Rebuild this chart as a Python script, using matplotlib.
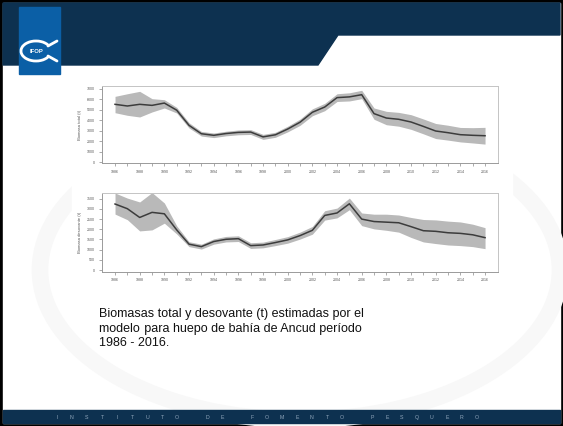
import matplotlib
matplotlib.use("Agg")
import matplotlib.pyplot as plt
from matplotlib.patches import Rectangle, Polygon, Ellipse, Arc
import numpy as np

plt.rcParams['font.family'] = ['Liberation Sans', 'DejaVu Sans']

# ---------------- data ----------------
years = list(range(1986, 2017))
total_mid = [5510, 5350, 5510, 5410, 5630, 4950, 3500, 2700, 2550, 2720, 2830, 2860, 2400, 2600,
             3150, 3800, 4750, 5250, 6150, 6220, 6430, 4620, 4200, 4080, 3820, 3400, 2960, 2800,
             2610, 2550, 2510]
total_lo = [4710, 4460, 4300, 4780, 5160, 4680, 3250, 2480, 2330, 2500, 2600, 2630, 2160, 2360,
            2880, 3500, 4420, 4900, 5780, 5830, 6050, 4080, 3560, 3420, 3120, 2690, 2240, 2090,
            1920, 1820, 1710]
total_hi = [6270, 6520, 6750, 6050, 5950, 5220, 3750, 2920, 2770, 2940, 3060, 3090, 2640, 2840,
            3420, 4100, 5080, 5600, 6520, 6610, 6850, 5160, 4840, 4740, 4520, 4110, 3680, 3510,
            3300, 3280, 3310]
spawn_mid = [3240, 3010, 2580, 2830, 2760, 1970, 1270, 1150, 1400, 1510, 1540, 1200, 1230, 1350,
             1480, 1690, 1950, 2680, 2800, 3250, 2500, 2380, 2350, 2320, 2130, 1930, 1900, 1830,
             1800, 1730, 1590]
spawn_lo = [2745, 2470, 1920, 1970, 2300, 1770, 1150, 1030, 1270, 1380, 1400, 1060, 1090, 1200,
            1320, 1520, 1760, 2450, 2560, 2960, 2180, 2020, 1950, 1860, 1600, 1380, 1300, 1230,
            1200, 1150, 1050]
spawn_hi = [3780, 3530, 3340, 3800, 3290, 2170, 1390, 1270, 1530, 1650, 1680, 1340, 1370, 1500,
            1640, 1860, 2140, 2910, 3040, 3530, 2800, 2740, 2740, 2700, 2580, 2480, 2460, 2400,
            2360, 2250, 2080]
total_ticks = [0, 1000, 2000, 3000, 4000, 5000, 6000, 7000]
spawn_ticks = [0, 500, 1000, 1500, 2000, 2500, 3000, 3500]
year_labels = list(range(1986, 2017, 2))
odd_years = list(range(1987, 2017, 2))

caption_lines = ["Biomasas total y desovante (t) estimadas por el",
                 "modelo para huepo de bahía de Ancud período",
                 "1986 - 2016."]
footer_words = ["INSTITUTO", "DE", "FOMENTO", "PESQUERO"]

W, H = 563, 426
fig = plt.figure(figsize=(W / 100, H / 100), dpi=100)
fig.patch.set_facecolor('black')

# background / decoration axes in pixel coordinates
bg = fig.add_axes([0, 0, 1, 1])
bg.set_xlim(0, W)
bg.set_ylim(H, 0)
bg.axis('off')
bg.set_zorder(0)

NAVY = '#0d3150'
# white slide
bg.add_patch(Rectangle((3, 3), W - 6, H - 6, color='white', zorder=0))
# watermark shape (very faint)
bg.add_patch(Ellipse((300, 270), 520, 300, fill=False, lw=12, ec='#f8f8f8', zorder=0.5))
# header
bg.add_patch(Polygon([(3, 3), (W - 3, 3), (W - 3, 35), (338, 35), (318, 65), (3, 65)],
                     closed=True, color=NAVY, zorder=1))
bg.add_patch(Rectangle((19, 7), 41, 67, color='#0b5fa6', zorder=2))
# logo (fish outline)
bg.add_patch(Arc((36, 51), 30, 20, theta1=25, theta2=335, lw=2.0, color='white', zorder=3))
bg.plot([48, 57], [46, 41], color='white', lw=2.0, zorder=3, solid_capstyle='round')
bg.plot([48, 57], [56, 61], color='white', lw=2.0, zorder=3, solid_capstyle='round')
bg.text(36, 51.5, "IFOP", fontsize=4.2, color='white', ha='center', va='center',
        fontweight='bold', zorder=3)
# plot image background (white)
bg.add_patch(Rectangle((72, 78), 440, 208, color='white', zorder=1))
# footer
bg.add_patch(Rectangle((3, 410), W - 6, 13, color=NAVY, zorder=1))
slot = 0
pitch = 15.0
for wi, word in enumerate(footer_words):
    for ch in word:
        bg.text(57 + slot * pitch, 417.5, ch, fontsize=3.8, color='#8fa5bb',
                ha='center', va='center', zorder=2)
        slot += 1
    slot += 1

# caption, justified by inserting hair spaces
fs = 9.0
x0, x1 = 99.3, 362.3
baselines = [317.5, 331.8, 346.0]
fig.canvas.draw()
renderer = fig.canvas.get_renderer()


def width_of(s):
    t = bg.text(0, 0, s, fontsize=fs)
    w = t.get_window_extent(renderer).width
    t.remove()
    return w


HS = '\u200a'
hs_w = max(width_of('a' + HS * 10 + 'a') - width_of('aa'), 0.1) / 10.0
for li, line in enumerate(caption_lines):
    s = line
    if li < len(caption_lines) - 1:
        words = line.split(' ')
        nat = width_of(line)
        extra = max(int(round((x1 - x0 - nat) / hs_w)), 0)
        ngaps = len(words) - 1
        parts = [words[0]]
        for gi in range(ngaps):
            k = extra // ngaps + (1 if gi < extra % ngaps else 0)
            parts.append(' ' + HS * k + words[gi + 1])
        s = ''.join(parts)
    bg.text(x0, baselines[li], s, fontsize=fs, color='#111111', va='baseline',
            ha='left', zorder=3)


def panel(top, bottom, ylim, mid, lo, hi, yticks, ylabel):
    ax = fig.add_axes([101.7 / W, (H - bottom) / H, (498 - 101.7) / W, (bottom - top) / H])
    ax.set_zorder(2)
    ax.set_facecolor('white')
    ax.fill_between(years, lo, hi, color='#b9b9b9', lw=0)
    ax.plot(years, mid, color='#3c3c3c', lw=1.1)
    ax.set_xlim(1984.92, 2017.05)
    ax.set_ylim(*ylim)
    ax.set_xticks(year_labels)
    ax.set_xticklabels([str(y) for y in year_labels])
    ax.set_xticks(odd_years, minor=True)
    ax.set_yticks(yticks)
    ax.set_yticklabels([str(v) for v in yticks])
    ax.tick_params(axis='both', which='both', labelsize=2.6, labelcolor='#555555',
                   color='#888888', length=2.2, width=0.5, pad=2.5)
    for s in ax.spines.values():
        s.set_color('#c4c4c4')
        s.set_linewidth(0.7)
    ax.spines['left'].set_color('#9a9a9a')
    ax.spines['bottom'].set_color('#9a9a9a')
    ax.set_ylabel(ylabel, fontsize=3.0, color='#555555', labelpad=4)
    return ax


panel(86, 163, (-95, 7260), total_mid, total_lo, total_hi, total_ticks, "Biomasa total (t)")
panel(193.3, 271.5, (-70, 3765), spawn_mid, spawn_lo, spawn_hi, spawn_ticks,
      "Biomasa desovante (t)")

fig.savefig("out.png", dpi=100, facecolor=fig.get_facecolor())
